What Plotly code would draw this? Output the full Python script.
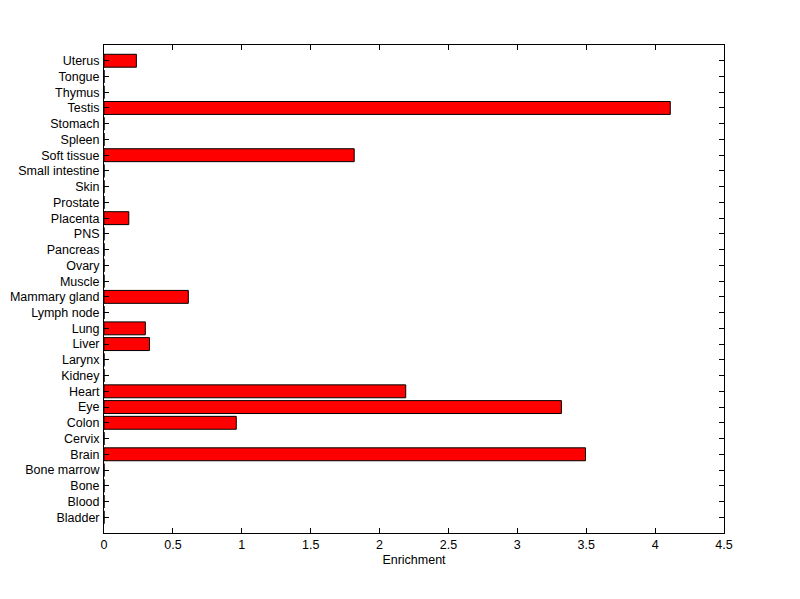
import plotly.graph_objects as go

tissues = ["Bladder", "Blood", "Bone", "Bone marrow", "Brain", "Cervix", "Colon", "Eye",
           "Heart", "Kidney", "Larynx", "Liver", "Lung", "Lymph node", "Mammary gland",
           "Muscle", "Ovary", "Pancreas", "PNS", "Placenta", "Prostate", "Skin",
           "Small intestine", "Soft tissue", "Spleen", "Stomach", "Testis", "Thymus",
           "Tongue", "Uterus"]
enrichment = [0, 0, 0, 0, 3.495, 0, 0.96, 3.32,
              2.19, 0, 0, 0.33, 0.30, 0, 0.612,
              0, 0, 0, 0, 0.18, 0, 0,
              0, 1.816, 0, 0, 4.11, 0,
              0, 0.235]
xticks = [0, 0.5, 1, 1.5, 2, 2.5, 3, 3.5, 4, 4.5]

positions = list(range(1, len(tissues) + 1))

fig = go.Figure()
fig.add_trace(go.Bar(
    x=enrichment, y=positions, orientation="h", width=0.82,
    marker=dict(color="#ff0000", line=dict(color="black", width=1)),
))

font = dict(family="Liberation Sans, Arial, sans-serif", size=12.5, color="black")
fig.update_layout(
    width=800, height=599,
    margin=dict(l=96, r=84, t=37, b=74, autoexpand=False),
    paper_bgcolor="white", plot_bgcolor="white",
    showlegend=False, font=font,
    xaxis=dict(range=[0, 4.5], tickvals=xticks, ticktext=[f"{v:g}" for v in xticks],
               showgrid=False, zeroline=False, showline=True, linecolor="black",
               linewidth=1, mirror="ticks", ticks="inside", ticklen=5,
               tickcolor="black", automargin=False,
               title=dict(text="Enrichment", standoff=4, font=font)),
    yaxis=dict(range=[0, 31], tickvals=positions, ticktext=tissues,
               showgrid=False, zeroline=False, showline=True, linecolor="black",
               linewidth=1, mirror="ticks", ticks="inside", ticklen=5,
               tickcolor="black", automargin=False, ticklabelstandoff=1),
)

fig.write_html("out.html")
